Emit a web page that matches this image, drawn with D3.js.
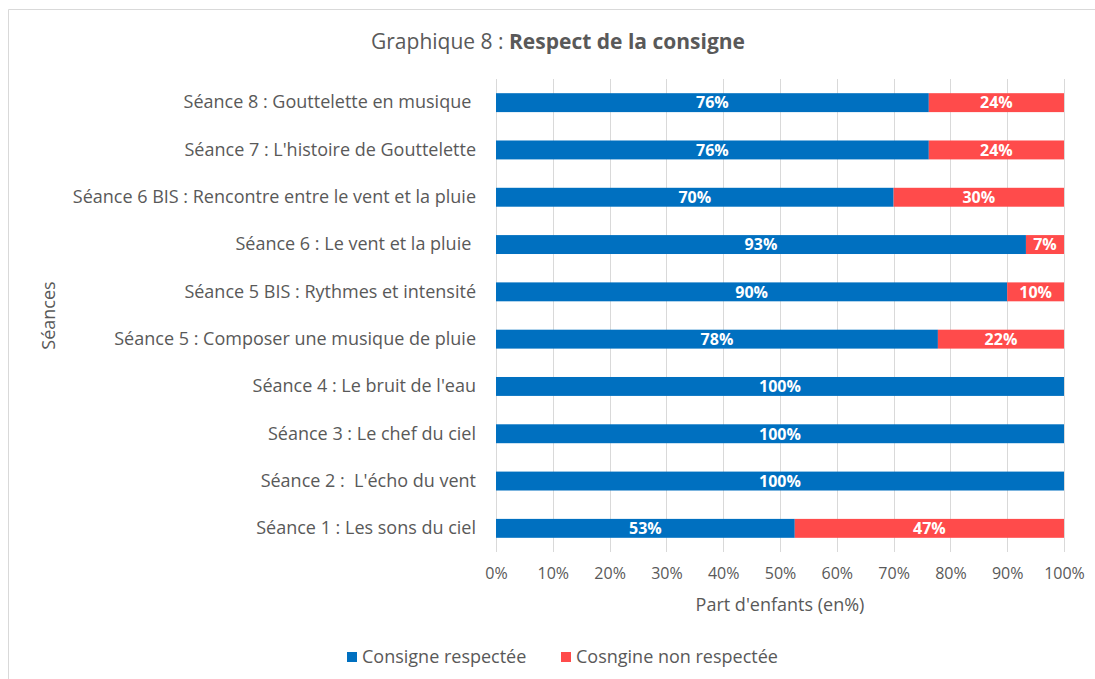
<!DOCTYPE html>
<html>
<head>
<meta charset="utf-8">
<script src="https://cdn.jsdelivr.net/npm/d3@7"></script>
<style>
  body { margin: 0; background: #fff; }
  svg text { font-family: "Open Sans", Lato, sans-serif; white-space: pre; }
</style>
</head>
<body>
<div id="chart"></div>
<script>
// Sessions, bottom to top as in the picture
const seances = [
  "Séance 1 : Les sons du ciel",
  "Séance 2 :  L'écho du vent",
  "Séance 3 : Le chef du ciel",
  "Séance 4 : Le bruit de l'eau",
  "Séance 5 : Composer une musique de pluie",
  "Séance 5 BIS : Rythmes et intensité",
  "Séance 6 : Le vent et la pluie ",
  "Séance 6 BIS : Rencontre entre le vent et la pluie",
  "Séance 7 : L'histoire de Gouttelette",
  "Séance 8 : Gouttelette en musique "
];
const respectee = [52.6, 100, 100, 100, 77.8, 90, 93.3, 70, 76.2, 76.2];
const nonRespectee = [47.4, 0, 0, 0, 22.2, 10, 6.7, 30, 23.8, 23.8];
const seriesNames = ["Consigne respectée", "Cosngine non respectée"];
const seriesColors = ["#0070C0", "#FF4B4B"];
const xTicks = [0, 10, 20, 30, 40, 50, 60, 70, 80, 90, 100];

const W = 1095, H = 679;
const margin = { top: 79, left: 496, right: 31, bottom: 127 };
const width = W - margin.left - margin.right,
  height = H - margin.top - margin.bottom;

const rows = seances.map((s, i) => ({ name: s, a: respectee[i], b: nonRespectee[i] }));

const svg = d3.select("#chart").append("svg").attr("width", W).attr("height", H);

// chart frame
svg.append("path")
  .attr("d", "M8.5,679 V9.5 H1095")
  .attr("fill", "none")
  .attr("stroke", "#d9d9d9");

const g = svg.append("g").attr("transform", "translate(" + margin.left + "," + margin.top + ")");

const x = d3.scaleLinear().domain([0, 100]).range([0, width]);
const y = d3.scaleBand()
  .domain(seances.slice().reverse())
  .range([0, height])
  .paddingInner(0.6)
  .paddingOuter(0.3);

// gridlines
g.selectAll(".grid")
  .data(xTicks)
  .join("line")
  .attr("class", "grid")
  .attr("x1", (d) => Math.round(x(d)) + 0.5)
  .attr("x2", (d) => Math.round(x(d)) + 0.5)
  .attr("y1", 0)
  .attr("y2", height)
  .attr("stroke", "#d9d9d9")
  .attr("stroke-width", 1);

// x axis labels
const xAxis = g.append("g")
  .attr("transform", "translate(0," + height + ")")
  .call(d3.axisBottom(x).tickValues(xTicks).tickFormat((d) => d + "%").tickSize(0).tickPadding(16));
xAxis.select(".domain").remove();
xAxis.selectAll("text")
  .attr("fill", "#595959")
  .style("font-size", "16px")
  .style("font-family", "'Open Sans', sans-serif");

// y axis labels
const yAxis = g.append("g")
  .call(d3.axisLeft(y).tickSize(0).tickPadding(20));
yAxis.select(".domain").remove();
yAxis.selectAll("text")
  .attr("fill", "#595959")
  .style("font-size", "18px")
  .style("font-family", "'Open Sans', sans-serif");

// stacked bars
g.selectAll(".bar-a")
  .data(rows)
  .join("rect")
  .attr("class", "bar-a")
  .attr("x", 0)
  .attr("y", (d) => y(d.name))
  .attr("width", (d) => x(d.a))
  .attr("height", y.bandwidth())
  .attr("fill", seriesColors[0]);

g.selectAll(".bar-b")
  .data(rows.filter((d) => d.b > 0))
  .join("rect")
  .attr("class", "bar-b")
  .attr("x", (d) => x(d.a))
  .attr("y", (d) => y(d.name))
  .attr("width", (d) => x(d.b))
  .attr("height", y.bandwidth())
  .attr("fill", seriesColors[1]);

// value labels
g.selectAll(".lab-a")
  .data(rows)
  .join("text")
  .attr("class", "lab-a")
  .attr("x", (d) => x(d.a / 2))
  .attr("y", (d) => y(d.name) + y.bandwidth() / 2)
  .attr("dy", "0.36em")
  .attr("text-anchor", "middle")
  .attr("fill", "#fff")
  .style("font-size", "16px")
  .style("font-weight", "bold")
  .text((d) => Math.round(d.a) + "%");

g.selectAll(".lab-b")
  .data(rows.filter((d) => d.b > 0))
  .join("text")
  .attr("class", "lab-b")
  .attr("x", (d) => x(d.a + d.b / 2))
  .attr("y", (d) => y(d.name) + y.bandwidth() / 2)
  .attr("dy", "0.36em")
  .attr("text-anchor", "middle")
  .attr("fill", "#fff")
  .style("font-size", "16px")
  .style("font-weight", "bold")
  .text((d) => Math.round(d.b) + "%");

// title
const title = svg.append("text")
  .attr("x", 558)
  .attr("y", 49)
  .attr("text-anchor", "middle")
  .attr("fill", "#595959")
  .style("font-size", "21px");
title.append("tspan").text("Graphique 8 : ");
title.append("tspan").style("font-weight", "bold").text("Respect de la consigne");

// axis titles
svg.append("text")
  .attr("x", margin.left + width / 2)
  .attr("y", 611)
  .attr("text-anchor", "middle")
  .attr("fill", "#595959")
  .style("font-size", "18px")
  .text("Part d'enfants (en%)");

svg.append("text")
  .attr("transform", "translate(55," + (margin.top + height / 2) + ") rotate(-90)")
  .attr("text-anchor", "middle")
  .attr("fill", "#595959")
  .style("font-size", "18px")
  .text("Séances");

// legend
const legendX = [347, 561];
const legend = svg.selectAll(".legend")
  .data(seriesNames)
  .join("g")
  .attr("class", "legend")
  .attr("transform", (d, i) => "translate(" + legendX[i] + ",652)");
legend.append("rect")
  .attr("width", 10)
  .attr("height", 10)
  .attr("fill", (d, i) => seriesColors[i]);
legend.append("text")
  .attr("x", 15)
  .attr("y", 5)
  .attr("dy", "0.36em")
  .attr("fill", "#595959")
  .style("font-size", "18px")
  .text((d) => d);
</script>
</body>
</html>
